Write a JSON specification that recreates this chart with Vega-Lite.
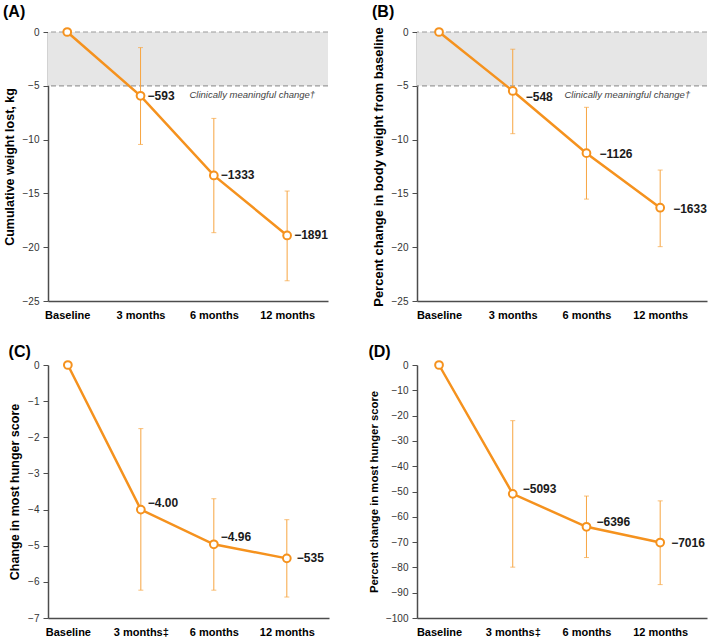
{
  "$schema": "https://vega.github.io/schema/vega-lite/v6.json",
  "background": "white",
  "padding": {"left": 3, "top": 4, "right": 2, "bottom": 0},
  "columns": 2,
  "bounds": "flush",
  "spacing": {"row": 64, "column": 88},
  "datasets": {
    "A": [
      {"time": "Baseline", "mean": 0, "lo": null, "hi": null, "label": ""},
      {"time": "3 months", "mean": -5.93, "lo": -10.45, "hi": -1.45, "label": "−593"},
      {"time": "6 months", "mean": -13.33, "lo": -18.65, "hi": -8.03, "label": "−1333"},
      {"time": "12 months", "mean": -18.91, "lo": -23.12, "hi": -14.78, "label": "−1891"}
    ],
    "B": [
      {"time": "Baseline", "mean": 0, "lo": null, "hi": null, "label": ""},
      {"time": "3 months", "mean": -5.48, "lo": -9.45, "hi": -1.6, "label": "−548"},
      {"time": "6 months", "mean": -11.26, "lo": -15.53, "hi": -7.0, "label": "−1126"},
      {"time": "12 months", "mean": -16.33, "lo": -19.95, "hi": -12.83, "label": "−1633"}
    ],
    "C": [
      {"time": "Baseline", "mean": 0, "lo": null, "hi": null, "label": ""},
      {"time": "3 months‡", "mean": -4.0, "lo": -6.23, "hi": -1.76, "label": "−4.00"},
      {"time": "6 months", "mean": -4.96, "lo": -6.23, "hi": -3.7, "label": "−4.96"},
      {"time": "12 months", "mean": -5.35, "lo": -6.42, "hi": -4.28, "label": "−535"}
    ],
    "D": [
      {"time": "Baseline", "mean": 0, "lo": null, "hi": null, "label": ""},
      {"time": "3 months‡", "mean": -50.93, "lo": -79.9, "hi": -22.0, "label": "−5093"},
      {"time": "6 months", "mean": -63.96, "lo": -76.1, "hi": -51.8, "label": "−6396"},
      {"time": "12 months", "mean": -70.16, "lo": -86.8, "hi": -53.7, "label": "−7016"}
    ]
  },
  "config": {
    "font": "Liberation Sans",
    "view": {"stroke": null},
    "axis": {"grid": false, "domainColor": "#4d4d4d", "domainWidth": 1.5, "tickColor": "#4d4d4d", "labelColor": "#333333", "labelOverlap": false},
    "axisY": {"tickSize": 5, "labelPadding": 4, "titlePadding": 6, "labelFontSize": 10, "titleFontSize": 12.5, "titleFontWeight": "bold", "titleColor": "#000000"},
    "axisX": {"ticks": false, "labelPadding": 8, "labelFontSize": 11, "labelFontWeight": "bold", "labelColor": "#000000", "labelAngle": 0},
    "title": {"anchor": "start", "frame": "bounds", "fontSize": 16, "fontWeight": "bold", "color": "#000000"}
  },
  "concat": [
    {
      "width": 280, "height": 269,
      "title": {"text": "(A)", "offset": 4},
      "layer": [
        {"data": {"values": [{"lo": -5, "hi": 0}]}, "mark": {"type": "rect", "color": "#e6e6e6"},
         "encoding": {"y": {"field": "lo", "type": "quantitative", "title": "Cumulative weight lost, kg", "scale": {"domain": [-25, 0], "nice": false}, "axis": {"values": [0, -5, -10, -15, -20, -25]}}, "y2": {"field": "hi"}}},
        {"data": {"values": [{"v": 0}, {"v": -5}]}, "mark": {"type": "rule", "color": "#999999", "strokeDash": [5, 3], "strokeWidth": 1.2},
         "encoding": {"y": {"field": "v", "type": "quantitative", "title": "Cumulative weight lost, kg", "scale": {"domain": [-25, 0], "nice": false}, "axis": {"values": [0, -5, -10, -15, -20, -25]}}}},
        {"data": {"values": [{"time": "12 months", "v": -5, "note": "Clinically meaningful change†"}]},
         "mark": {"type": "text", "align": "right", "baseline": "top", "dx": 28, "dy": 4, "fontStyle": "italic", "fontSize": 9.5, "color": "#444444"},
         "encoding": {"x": {"field": "time", "type": "ordinal", "title": null, "scale": {"type": "point", "domain": ["Baseline", "3 months", "6 months", "12 months"], "padding": 0.41, "align": 0.32}},
                      "y": {"field": "v", "type": "quantitative", "title": "Cumulative weight lost, kg", "scale": {"domain": [-25, 0], "nice": false}, "axis": {"values": [0, -5, -10, -15, -20, -25]}}, "text": {"field": "note"}}},
        {"data": {"name": "A"}, "transform": [{"filter": "datum.lo != null"}], "mark": {"type": "rule", "color": "#F7A541", "strokeWidth": 1},
         "encoding": {"x": {"field": "time", "type": "ordinal", "title": null, "scale": {"type": "point", "domain": ["Baseline", "3 months", "6 months", "12 months"], "padding": 0.41, "align": 0.32}},
                      "y": {"field": "lo", "type": "quantitative", "title": "Cumulative weight lost, kg", "scale": {"domain": [-25, 0], "nice": false}, "axis": {"values": [0, -5, -10, -15, -20, -25]}}, "y2": {"field": "hi"}}},
        {"data": {"name": "A"}, "transform": [{"filter": "datum.lo != null"}, {"fold": ["lo", "hi"], "as": ["end", "val"]}], "mark": {"type": "tick", "color": "#F7A541", "size": 5, "thickness": 1},
         "encoding": {"x": {"field": "time", "type": "ordinal", "title": null, "scale": {"type": "point", "domain": ["Baseline", "3 months", "6 months", "12 months"], "padding": 0.41, "align": 0.32}},
                      "y": {"field": "val", "type": "quantitative", "title": "Cumulative weight lost, kg", "scale": {"domain": [-25, 0], "nice": false}, "axis": {"values": [0, -5, -10, -15, -20, -25]}}}},
        {"data": {"name": "A"}, "mark": {"type": "line", "color": "#F5921E", "strokeWidth": 2.5},
         "encoding": {"x": {"field": "time", "type": "ordinal", "title": null, "sort": null, "scale": {"type": "point", "domain": ["Baseline", "3 months", "6 months", "12 months"], "padding": 0.41, "align": 0.32}},
                      "y": {"field": "mean", "type": "quantitative", "title": "Cumulative weight lost, kg", "scale": {"domain": [-25, 0], "nice": false}, "axis": {"values": [0, -5, -10, -15, -20, -25]}}}},
        {"data": {"name": "A"}, "mark": {"type": "point", "shape": "circle", "filled": false, "fill": "white", "fillOpacity": 1, "stroke": "#F5921E", "strokeWidth": 2, "size": 60, "opacity": 1},
         "encoding": {"x": {"field": "time", "type": "ordinal", "title": null, "scale": {"type": "point", "domain": ["Baseline", "3 months", "6 months", "12 months"], "padding": 0.41, "align": 0.32}},
                      "y": {"field": "mean", "type": "quantitative", "title": "Cumulative weight lost, kg", "scale": {"domain": [-25, 0], "nice": false}, "axis": {"values": [0, -5, -10, -15, -20, -25]}}}},
        {"data": {"name": "A"}, "mark": {"type": "text", "align": "left", "baseline": "middle", "dx": 7, "fontSize": 12, "fontWeight": "bold", "color": "#1a1a1a"},
         "encoding": {"x": {"field": "time", "type": "ordinal", "title": null, "scale": {"type": "point", "domain": ["Baseline", "3 months", "6 months", "12 months"], "padding": 0.41, "align": 0.32}},
                      "y": {"field": "mean", "type": "quantitative", "title": "Cumulative weight lost, kg", "scale": {"domain": [-25, 0], "nice": false}, "axis": {"values": [0, -5, -10, -15, -20, -25]}}, "text": {"field": "label"}}}
      ]
    },
    {
      "width": 290, "height": 269,
      "title": {"text": "(B)", "offset": 4},
      "layer": [
        {"data": {"values": [{"lo": -5, "hi": 0}]}, "mark": {"type": "rect", "color": "#e6e6e6"},
         "encoding": {"y": {"field": "lo", "type": "quantitative", "title": "Percent change in body weight from baseline", "scale": {"domain": [-25, 0], "nice": false}, "axis": {"values": [0, -5, -10, -15, -20, -25], "titleFontSize": 13}}, "y2": {"field": "hi"}}},
        {"data": {"values": [{"v": 0}, {"v": -5}]}, "mark": {"type": "rule", "color": "#999999", "strokeDash": [5, 3], "strokeWidth": 1.2},
         "encoding": {"y": {"field": "v", "type": "quantitative", "title": "Percent change in body weight from baseline", "scale": {"domain": [-25, 0], "nice": false}, "axis": {"values": [0, -5, -10, -15, -20, -25], "titleFontSize": 13}}}},
        {"data": {"values": [{"time": "12 months", "v": -5, "note": "Clinically meaningful change†"}]},
         "mark": {"type": "text", "align": "right", "baseline": "top", "dx": 30, "dy": 4, "fontStyle": "italic", "fontSize": 9.5, "color": "#444444"},
         "encoding": {"x": {"field": "time", "type": "ordinal", "title": null, "scale": {"type": "point", "domain": ["Baseline", "3 months", "6 months", "12 months"], "padding": 0.467, "align": 0.32}},
                      "y": {"field": "v", "type": "quantitative", "title": "Percent change in body weight from baseline", "scale": {"domain": [-25, 0], "nice": false}, "axis": {"values": [0, -5, -10, -15, -20, -25], "titleFontSize": 13}}, "text": {"field": "note"}}},
        {"data": {"name": "B"}, "transform": [{"filter": "datum.lo != null"}], "mark": {"type": "rule", "color": "#F7A541", "strokeWidth": 1},
         "encoding": {"x": {"field": "time", "type": "ordinal", "title": null, "scale": {"type": "point", "domain": ["Baseline", "3 months", "6 months", "12 months"], "padding": 0.467, "align": 0.32}},
                      "y": {"field": "lo", "type": "quantitative", "title": "Percent change in body weight from baseline", "scale": {"domain": [-25, 0], "nice": false}, "axis": {"values": [0, -5, -10, -15, -20, -25], "titleFontSize": 13}}, "y2": {"field": "hi"}}},
        {"data": {"name": "B"}, "transform": [{"filter": "datum.lo != null"}, {"fold": ["lo", "hi"], "as": ["end", "val"]}], "mark": {"type": "tick", "color": "#F7A541", "size": 5, "thickness": 1},
         "encoding": {"x": {"field": "time", "type": "ordinal", "title": null, "scale": {"type": "point", "domain": ["Baseline", "3 months", "6 months", "12 months"], "padding": 0.467, "align": 0.32}},
                      "y": {"field": "val", "type": "quantitative", "title": "Percent change in body weight from baseline", "scale": {"domain": [-25, 0], "nice": false}, "axis": {"values": [0, -5, -10, -15, -20, -25], "titleFontSize": 13}}}},
        {"data": {"name": "B"}, "mark": {"type": "line", "color": "#F5921E", "strokeWidth": 2.5},
         "encoding": {"x": {"field": "time", "type": "ordinal", "title": null, "sort": null, "scale": {"type": "point", "domain": ["Baseline", "3 months", "6 months", "12 months"], "padding": 0.467, "align": 0.32}},
                      "y": {"field": "mean", "type": "quantitative", "title": "Percent change in body weight from baseline", "scale": {"domain": [-25, 0], "nice": false}, "axis": {"values": [0, -5, -10, -15, -20, -25], "titleFontSize": 13}}}},
        {"data": {"name": "B"}, "mark": {"type": "point", "shape": "circle", "filled": false, "fill": "white", "fillOpacity": 1, "stroke": "#F5921E", "strokeWidth": 2, "size": 60, "opacity": 1},
         "encoding": {"x": {"field": "time", "type": "ordinal", "title": null, "scale": {"type": "point", "domain": ["Baseline", "3 months", "6 months", "12 months"], "padding": 0.467, "align": 0.32}},
                      "y": {"field": "mean", "type": "quantitative", "title": "Percent change in body weight from baseline", "scale": {"domain": [-25, 0], "nice": false}, "axis": {"values": [0, -5, -10, -15, -20, -25], "titleFontSize": 13}}}},
        {"data": {"name": "B"}, "transform": [{"filter": "datum.time == '3 months'"}], "mark": {"type": "text", "align": "left", "baseline": "middle", "dx": 13, "dy": 6, "fontSize": 12, "fontWeight": "bold", "color": "#1a1a1a"},
         "encoding": {"x": {"field": "time", "type": "ordinal", "title": null, "scale": {"type": "point", "domain": ["Baseline", "3 months", "6 months", "12 months"], "padding": 0.467, "align": 0.32}},
                      "y": {"field": "mean", "type": "quantitative", "title": "Percent change in body weight from baseline", "scale": {"domain": [-25, 0], "nice": false}, "axis": {"values": [0, -5, -10, -15, -20, -25], "titleFontSize": 13}}, "text": {"field": "label"}}},
        {"data": {"name": "B"}, "transform": [{"filter": "datum.time != '3 months'"}], "mark": {"type": "text", "align": "left", "baseline": "middle", "dx": 13, "dy": 1, "fontSize": 12, "fontWeight": "bold", "color": "#1a1a1a"},
         "encoding": {"x": {"field": "time", "type": "ordinal", "title": null, "scale": {"type": "point", "domain": ["Baseline", "3 months", "6 months", "12 months"], "padding": 0.467, "align": 0.32}},
                      "y": {"field": "mean", "type": "quantitative", "title": "Percent change in body weight from baseline", "scale": {"domain": [-25, 0], "nice": false}, "axis": {"values": [0, -5, -10, -15, -20, -25], "titleFontSize": 13}}, "text": {"field": "label"}}}
      ]
    },
    {
      "width": 281, "height": 253,
      "title": {"text": "(C)", "offset": -3},
      "layer": [
        {"data": {"name": "C"}, "transform": [{"filter": "datum.lo != null"}], "mark": {"type": "rule", "color": "#F7A541", "strokeWidth": 1},
         "encoding": {"x": {"field": "time", "type": "ordinal", "title": null, "scale": {"type": "point", "domain": ["Baseline", "3 months‡", "6 months", "12 months"], "padding": 0.425, "align": 0.32}},
                      "y": {"field": "lo", "type": "quantitative", "title": "Change in most hunger score", "scale": {"domain": [-7, 0], "nice": false}, "axis": {"values": [0, -1, -2, -3, -4, -5, -6, -7]}}, "y2": {"field": "hi"}}},
        {"data": {"name": "C"}, "transform": [{"filter": "datum.lo != null"}, {"fold": ["lo", "hi"], "as": ["end", "val"]}], "mark": {"type": "tick", "color": "#F7A541", "size": 5, "thickness": 1},
         "encoding": {"x": {"field": "time", "type": "ordinal", "title": null, "scale": {"type": "point", "domain": ["Baseline", "3 months‡", "6 months", "12 months"], "padding": 0.425, "align": 0.32}},
                      "y": {"field": "val", "type": "quantitative", "title": "Change in most hunger score", "scale": {"domain": [-7, 0], "nice": false}, "axis": {"values": [0, -1, -2, -3, -4, -5, -6, -7]}}}},
        {"data": {"name": "C"}, "mark": {"type": "line", "color": "#F5921E", "strokeWidth": 2.5},
         "encoding": {"x": {"field": "time", "type": "ordinal", "title": null, "sort": null, "scale": {"type": "point", "domain": ["Baseline", "3 months‡", "6 months", "12 months"], "padding": 0.425, "align": 0.32}},
                      "y": {"field": "mean", "type": "quantitative", "title": "Change in most hunger score", "scale": {"domain": [-7, 0], "nice": false}, "axis": {"values": [0, -1, -2, -3, -4, -5, -6, -7]}}}},
        {"data": {"name": "C"}, "mark": {"type": "point", "shape": "circle", "filled": false, "fill": "white", "fillOpacity": 1, "stroke": "#F5921E", "strokeWidth": 2, "size": 60, "opacity": 1},
         "encoding": {"x": {"field": "time", "type": "ordinal", "title": null, "scale": {"type": "point", "domain": ["Baseline", "3 months‡", "6 months", "12 months"], "padding": 0.425, "align": 0.32}},
                      "y": {"field": "mean", "type": "quantitative", "title": "Change in most hunger score", "scale": {"domain": [-7, 0], "nice": false}, "axis": {"values": [0, -1, -2, -3, -4, -5, -6, -7]}}}},
        {"data": {"name": "C"}, "transform": [{"filter": "datum.time == '3 months‡' || datum.time == '6 months'"}], "mark": {"type": "text", "align": "left", "baseline": "middle", "dx": 7, "dy": -7, "fontSize": 12, "fontWeight": "bold", "color": "#1a1a1a"},
         "encoding": {"x": {"field": "time", "type": "ordinal", "title": null, "scale": {"type": "point", "domain": ["Baseline", "3 months‡", "6 months", "12 months"], "padding": 0.425, "align": 0.32}},
                      "y": {"field": "mean", "type": "quantitative", "title": "Change in most hunger score", "scale": {"domain": [-7, 0], "nice": false}, "axis": {"values": [0, -1, -2, -3, -4, -5, -6, -7]}}, "text": {"field": "label"}}},
        {"data": {"name": "C"}, "transform": [{"filter": "datum.time == '12 months'"}], "mark": {"type": "text", "align": "left", "baseline": "middle", "dx": 10, "fontSize": 12, "fontWeight": "bold", "color": "#1a1a1a"},
         "encoding": {"x": {"field": "time", "type": "ordinal", "title": null, "scale": {"type": "point", "domain": ["Baseline", "3 months‡", "6 months", "12 months"], "padding": 0.425, "align": 0.32}},
                      "y": {"field": "mean", "type": "quantitative", "title": "Change in most hunger score", "scale": {"domain": [-7, 0], "nice": false}, "axis": {"values": [0, -1, -2, -3, -4, -5, -6, -7]}}, "text": {"field": "label"}}}
      ]
    },
    {
      "width": 290, "height": 253,
      "title": {"text": "(D)", "offset": -3},
      "layer": [
        {"data": {"name": "D"}, "transform": [{"filter": "datum.lo != null"}], "mark": {"type": "rule", "color": "#F7A541", "strokeWidth": 1},
         "encoding": {"x": {"field": "time", "type": "ordinal", "title": null, "scale": {"type": "point", "domain": ["Baseline", "3 months‡", "6 months", "12 months"], "padding": 0.467, "align": 0.32}},
                      "y": {"field": "lo", "type": "quantitative", "title": "Percent change in most hunger score", "scale": {"domain": [-100, 0], "nice": false}, "axis": {"values": [0, -10, -20, -30, -40, -50, -60, -70, -80, -90, -100], "titleFontSize": 11.3}}, "y2": {"field": "hi"}}},
        {"data": {"name": "D"}, "transform": [{"filter": "datum.lo != null"}, {"fold": ["lo", "hi"], "as": ["end", "val"]}], "mark": {"type": "tick", "color": "#F7A541", "size": 5, "thickness": 1},
         "encoding": {"x": {"field": "time", "type": "ordinal", "title": null, "scale": {"type": "point", "domain": ["Baseline", "3 months‡", "6 months", "12 months"], "padding": 0.467, "align": 0.32}},
                      "y": {"field": "val", "type": "quantitative", "title": "Percent change in most hunger score", "scale": {"domain": [-100, 0], "nice": false}, "axis": {"values": [0, -10, -20, -30, -40, -50, -60, -70, -80, -90, -100], "titleFontSize": 11.3}}}},
        {"data": {"name": "D"}, "mark": {"type": "line", "color": "#F5921E", "strokeWidth": 2.5},
         "encoding": {"x": {"field": "time", "type": "ordinal", "title": null, "sort": null, "scale": {"type": "point", "domain": ["Baseline", "3 months‡", "6 months", "12 months"], "padding": 0.467, "align": 0.32}},
                      "y": {"field": "mean", "type": "quantitative", "title": "Percent change in most hunger score", "scale": {"domain": [-100, 0], "nice": false}, "axis": {"values": [0, -10, -20, -30, -40, -50, -60, -70, -80, -90, -100], "titleFontSize": 11.3}}}},
        {"data": {"name": "D"}, "mark": {"type": "point", "shape": "circle", "filled": false, "fill": "white", "fillOpacity": 1, "stroke": "#F5921E", "strokeWidth": 2, "size": 60, "opacity": 1},
         "encoding": {"x": {"field": "time", "type": "ordinal", "title": null, "scale": {"type": "point", "domain": ["Baseline", "3 months‡", "6 months", "12 months"], "padding": 0.467, "align": 0.32}},
                      "y": {"field": "mean", "type": "quantitative", "title": "Percent change in most hunger score", "scale": {"domain": [-100, 0], "nice": false}, "axis": {"values": [0, -10, -20, -30, -40, -50, -60, -70, -80, -90, -100], "titleFontSize": 11.3}}}},
        {"data": {"name": "D"}, "transform": [{"filter": "datum.time == '3 months‡' || datum.time == '6 months'"}], "mark": {"type": "text", "align": "left", "baseline": "middle", "dx": 10, "dy": -5, "fontSize": 12, "fontWeight": "bold", "color": "#1a1a1a"},
         "encoding": {"x": {"field": "time", "type": "ordinal", "title": null, "scale": {"type": "point", "domain": ["Baseline", "3 months‡", "6 months", "12 months"], "padding": 0.467, "align": 0.32}},
                      "y": {"field": "mean", "type": "quantitative", "title": "Percent change in most hunger score", "scale": {"domain": [-100, 0], "nice": false}, "axis": {"values": [0, -10, -20, -30, -40, -50, -60, -70, -80, -90, -100], "titleFontSize": 11.3}}, "text": {"field": "label"}}},
        {"data": {"name": "D"}, "transform": [{"filter": "datum.time == '12 months'"}], "mark": {"type": "text", "align": "left", "baseline": "middle", "dx": 11, "fontSize": 12, "fontWeight": "bold", "color": "#1a1a1a"},
         "encoding": {"x": {"field": "time", "type": "ordinal", "title": null, "scale": {"type": "point", "domain": ["Baseline", "3 months‡", "6 months", "12 months"], "padding": 0.467, "align": 0.32}},
                      "y": {"field": "mean", "type": "quantitative", "title": "Percent change in most hunger score", "scale": {"domain": [-100, 0], "nice": false}, "axis": {"values": [0, -10, -20, -30, -40, -50, -60, -70, -80, -90, -100], "titleFontSize": 11.3}}, "text": {"field": "label"}}}
      ]
    }
  ]
}
